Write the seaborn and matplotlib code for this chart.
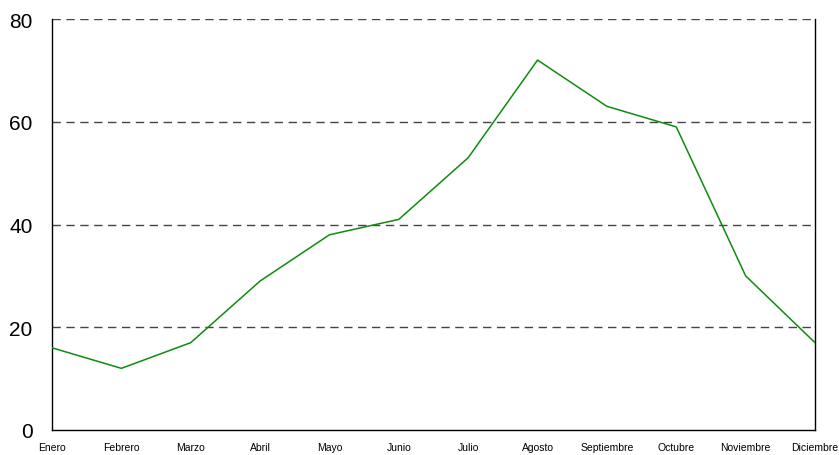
import matplotlib
matplotlib.use("Agg")
import matplotlib.pyplot as plt
import seaborn as sns
import pandas as pd

meses = ["Enero", "Febrero", "Marzo", "Abril", "Mayo", "Junio", "Julio",
         "Agosto", "Septiembre", "Octubre", "Noviembre", "Diciembre"]
valores = [16, 12, 17, 29, 38, 41, 53, 72, 63, 59, 30, 17]
y_ticks = [0, 20, 40, 60, 80]

sns.set_style("white")
plt.rcParams["font.family"] = ["Liberation Sans", "DejaVu Sans"]

df = pd.DataFrame({"mes": range(len(meses)), "valor": valores})

fig = plt.figure(figsize=(8.39, 4.56), dpi=100)
ax = fig.add_axes([52 / 839, 25 / 456, (815 - 52) / 839, (431 - 20) / 456])

# horizontal dashed reference lines
for v in y_ticks[1:]:
    ax.axhline(v, color="#444444", linestyle=(0, (6, 4)), linewidth=1.0, zorder=1)

sns.lineplot(data=df, x="mes", y="valor", ax=ax, color="#108a10",
             linewidth=1.1, zorder=3)

ax.set_xlim(0, len(meses) - 1)
ax.set_ylim(0, 80)
ax.set_xticks(range(len(meses)))
ax.set_xticklabels(meses, fontsize=7.5, color="black")
ax.set_yticks(y_ticks)
ax.set_yticklabels([str(t) for t in y_ticks], fontsize=15, color="black")
ax.tick_params(axis="both", length=0)
ax.tick_params(axis="x", pad=8.5)
ax.tick_params(axis="y", pad=14)
ax.set_xlabel("")
ax.set_ylabel("")

for side in ["left", "bottom", "right"]:
    ax.spines[side].set_visible(True)
    ax.spines[side].set_color("black")
    ax.spines[side].set_linewidth(1.0)
ax.spines["top"].set_visible(False)

fig.savefig("out.png", dpi=100)
